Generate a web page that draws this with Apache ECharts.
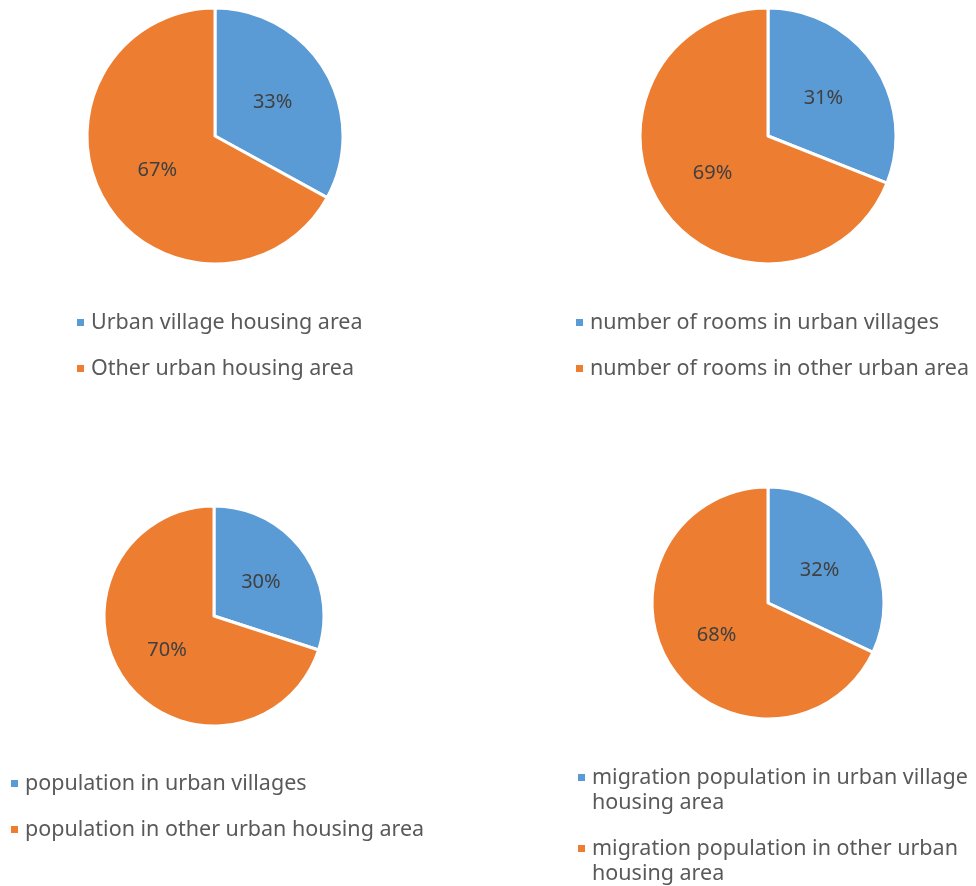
<!DOCTYPE html>
<html>
<head>
<meta charset="utf-8">
<script src="https://cdn.jsdelivr.net/npm/echarts@6/dist/echarts.min.js"></script>
<style>
  html, body { margin: 0; padding: 0; background: #fff; }
  #main { width: 976px; height: 886px; }
</style>
</head>
<body>
<div id="main"></div>
<script>
// share of urban village vs other urban area, one pair per pie
var areaNames = ['Urban village housing area', 'Other urban housing area'];
var areaValues = [33, 67];

var roomNames = ['number of rooms in urban villages', 'number of rooms in other urban area'];
var roomValues = [31, 69];

var popNames = ['population in urban villages', 'population in other urban housing area'];
var popValues = [30, 70];

var migNames = ['migration population in urban village housing area', 'migration population in other urban housing area'];
var migValues = [32, 68];

var colors = ['#5B9BD5', '#ED7D31'];
var fontName = 'Noto Sans';

var chart = echarts.init(document.getElementById('main'));

function pieData(names, values) {
  return names.map(function (n, i) {
    return { name: n, value: values[i] };
  });
}

function makePie(names, values, center, radius) {
  return {
    type: 'pie',
    center: center,
    radius: radius,
    startAngle: 90,
    clockwise: true,
    silent: true,
    data: pieData(names, values),
    itemStyle: { borderColor: '#fff', borderWidth: 3 },
    label: {
      show: true,
      position: 'inside',
      formatter: '{d}%',
      color: '#404040',
      fontSize: 20,
      fontFamily: fontName
    },
    labelLine: { show: false }
  };
}

function makeLegend(names, left, top, fmt, gap) {
  return {
    data: names,
    orient: 'vertical',
    left: left,
    top: top,
    icon: 'rect',
    itemWidth: 9,
    itemHeight: 9,
    itemGap: gap == null ? 21 : gap,
    padding: 0,
    formatter: fmt || '{name}',
    textStyle: {
      color: '#595959',
      fontSize: 21.5,
      lineHeight: 25,
      fontFamily: fontName,
      padding: [0, 0, 0, 1]
    }
  };
}

// break the long legend names of the last pie onto two lines;
// an empty line on top keeps the marker level with the first text line
function wrapMig(name) {
  if (name === migNames[0]) return ' \nmigration population in urban village\nhousing area';
  return ' \nmigration population in other urban\nhousing area';
}

var option = {
  animation: false,
  color: colors,
  legend: [
    makeLegend(areaNames, 75, 310),
    makeLegend(roomNames, 574, 310),
    makeLegend(popNames, 9, 771),
    makeLegend(migNames, 576, 740, wrapMig, -4)
  ],
  series: [
    makePie(areaNames, areaValues, [215, 136], 128),
    makePie(roomNames, roomValues, [768, 136], 128),
    makePie(popNames, popValues, [214, 616], 110),
    makePie(migNames, migValues, [768, 603], 116)
  ]
};

chart.setOption(option);
</script>
</body>
</html>
